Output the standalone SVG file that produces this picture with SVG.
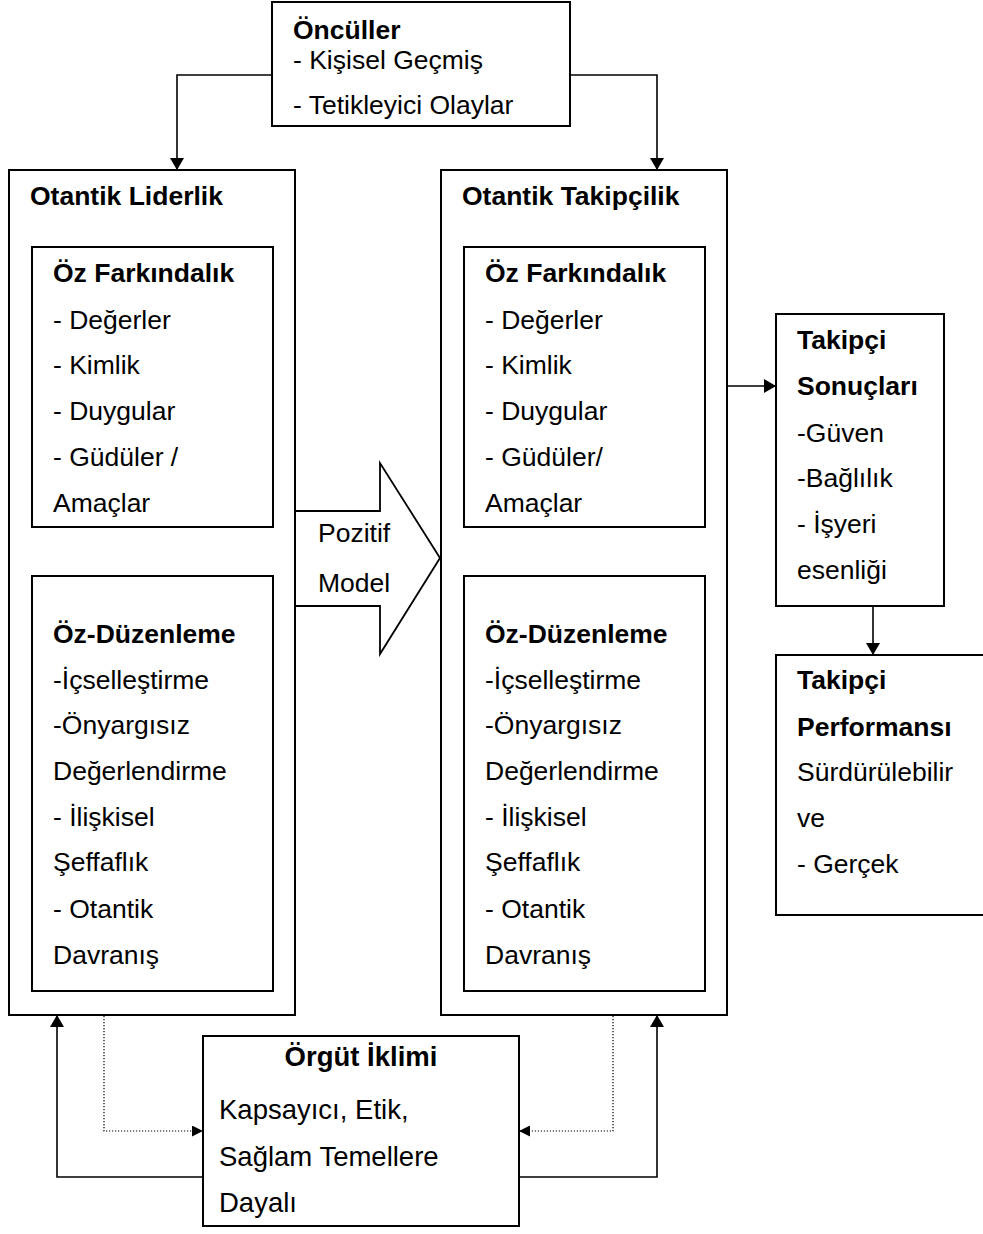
<svg xmlns="http://www.w3.org/2000/svg" width="983" height="1234" viewBox="0 0 983 1234">
  <style>
    .box { fill: #fff; stroke: #000; stroke-width: 2; }
    .t { font-family: "Liberation Sans", Arial, sans-serif; font-size: 26.5px; fill: #000; }
    .b { font-weight: bold; }
    .big { font-size: 27.5px; }
    .ln { fill: none; stroke: #000; stroke-width: 1.6; }
    .thick { fill: none; stroke: #000; stroke-width: 2.6; }
    .dot { fill: none; stroke: #000; stroke-width: 1.2; stroke-dasharray: 1.2 1.8; }
  </style>
  <defs>
    <marker id="ah" viewBox="0 0 12 14" refX="12" refY="7" markerWidth="13" markerHeight="14" markerUnits="userSpaceOnUse" orient="auto">
      <path d="M0,0 L12,7 L0,14 Z" fill="#000"/>
    </marker>
    <marker id="ahs" viewBox="0 0 12 12" refX="12" refY="6" markerWidth="11" markerHeight="11" markerUnits="userSpaceOnUse" orient="auto">
      <path d="M0,0 L12,6 L0,12 Z" fill="#000"/>
    </marker>
    <clipPath id="clipOnc"><rect x="272" y="2" width="298" height="124"/></clipPath>
  </defs>

  <!-- connectors -->
  <g id="connectors">
    <polyline class="ln" points="272,75 177,75 177,170" marker-end="url(#ah)"/>
    <polyline class="ln" points="570,75 657,75 657,170" marker-end="url(#ah)"/>
    <line class="thick" x1="153" y1="527" x2="153" y2="576" marker-end="url(#ah)"/>
    <line class="thick" x1="585" y1="527" x2="585" y2="576" marker-end="url(#ah)"/>
    <line class="ln" x1="727" y1="386" x2="776" y2="386" marker-end="url(#ah)"/>
    <line class="ln" x1="873" y1="606" x2="873" y2="655" marker-end="url(#ah)"/>
    <polyline class="ln" points="203,1177 57,1177 57,1015" marker-end="url(#ah)"/>
    <polyline class="ln" points="519,1177 657,1177 657,1015" marker-end="url(#ah)"/>
    <polyline class="dot" points="104,1016 104,1131 203,1131" marker-end="url(#ahs)"/>
    <polyline class="dot" points="613,1016 613,1131 519,1131" marker-end="url(#ahs)"/>
  </g>

  <!-- antecedents -->
  <g id="onculler">
    <rect class="box" x="272" y="2" width="298" height="124"/>
    <g clip-path="url(#clipOnc)">
      <text class="t b" x="293" y="39">Öncüller</text>
      <text class="t" x="293" y="69">- Kişisel Geçmiş</text>
      <text class="t" x="293" y="114">- Tetikleyici Olaylar</text>
    </g>
  </g>

  <!-- authentic leadership -->
  <g id="otantik-liderlik">
    <rect class="box" x="9" y="170" width="286" height="845"/>
    <text class="t b" x="30" y="205">Otantik Liderlik</text>
  </g>
  <g id="lider-oz-farkindalik">
    <rect class="box" x="32" y="247" width="241" height="280"/>
    <text class="t b" x="53" y="282">Öz Farkındalık</text>
    <text class="t" x="53" y="329">- Değerler</text>
    <text class="t" x="53" y="374">- Kimlik</text>
    <text class="t" x="53" y="420">- Duygular</text>
    <text class="t" x="53" y="466">- Güdüler /</text>
    <text class="t" x="53" y="512">Amaçlar</text>
  </g>
  <g id="lider-oz-duzenleme">
    <rect class="box" x="32" y="576" width="241" height="415"/>
    <text class="t b" x="53" y="643">Öz-Düzenleme</text>
    <text class="t" x="53" y="689">-İçselleştirme</text>
    <text class="t" x="53" y="734">-Önyargısız</text>
    <text class="t" x="53" y="780">Değerlendirme</text>
    <text class="t" x="53" y="826">- İlişkisel</text>
    <text class="t" x="53" y="871">Şeffaflık</text>
    <text class="t" x="53" y="918">- Otantik</text>
    <text class="t" x="53" y="964">Davranış</text>
  </g>

  <!-- positive model arrow -->
  <g id="pozitif-model">
    <path d="M296,511 L380,511 L380,463 L440,558 L380,654 L380,606 L296,606" fill="#fff" stroke="#000" stroke-width="1.8"/>
    <text class="t" x="318" y="542">Pozitif</text>
    <text class="t" x="318" y="592">Model</text>
  </g>

  <!-- authentic followership -->
  <g id="otantik-takipcilik">
    <rect class="box" x="441" y="170" width="286" height="845"/>
    <text class="t b" x="462" y="205">Otantik Takipçilik</text>
  </g>
  <g id="takipci-oz-farkindalik">
    <rect class="box" x="464" y="247" width="241" height="280"/>
    <text class="t b" x="485" y="282">Öz Farkındalık</text>
    <text class="t" x="485" y="329">- Değerler</text>
    <text class="t" x="485" y="374">- Kimlik</text>
    <text class="t" x="485" y="420">- Duygular</text>
    <text class="t" x="485" y="466">- Güdüler/</text>
    <text class="t" x="485" y="512">Amaçlar</text>
  </g>
  <g id="takipci-oz-duzenleme">
    <rect class="box" x="464" y="576" width="241" height="415"/>
    <text class="t b" x="485" y="643">Öz-Düzenleme</text>
    <text class="t" x="485" y="689">-İçselleştirme</text>
    <text class="t" x="485" y="734">-Önyargısız</text>
    <text class="t" x="485" y="780">Değerlendirme</text>
    <text class="t" x="485" y="826">- İlişkisel</text>
    <text class="t" x="485" y="871">Şeffaflık</text>
    <text class="t" x="485" y="918">- Otantik</text>
    <text class="t" x="485" y="964">Davranış</text>
  </g>

  <!-- follower outcomes -->
  <g id="takipci-sonuclari">
    <rect class="box" x="776" y="314" width="168" height="292"/>
    <text class="t b" x="797" y="349">Takipçi</text>
    <text class="t b" x="797" y="395">Sonuçları</text>
    <text class="t" x="797" y="442">-Güven</text>
    <text class="t" x="797" y="487">-Bağlılık</text>
    <text class="t" x="797" y="533">- İşyeri</text>
    <text class="t" x="797" y="579">esenliği</text>
  </g>

  <!-- follower performance -->
  <g id="takipci-performansi">
    <rect class="box" x="776" y="655" width="220" height="260"/>
    <text class="t b" x="797" y="689">Takipçi</text>
    <text class="t b" x="797" y="736">Performansı</text>
    <text class="t" x="797" y="781">Sürdürülebilir</text>
    <text class="t" x="797" y="827">ve</text>
    <text class="t" x="797" y="873">- Gerçek</text>
  </g>

  <!-- organisational climate -->
  <g id="orgut-iklimi">
    <rect class="box" x="203" y="1036" width="316" height="190"/>
    <text class="t big b" x="361" y="1066" text-anchor="middle">Örgüt İklimi</text>
    <text class="t big" x="219" y="1119">Kapsayıcı, Etik,</text>
    <text class="t big" x="219" y="1166">Sağlam Temellere</text>
    <text class="t big" x="219" y="1212">Dayalı</text>
  </g>
</svg>
